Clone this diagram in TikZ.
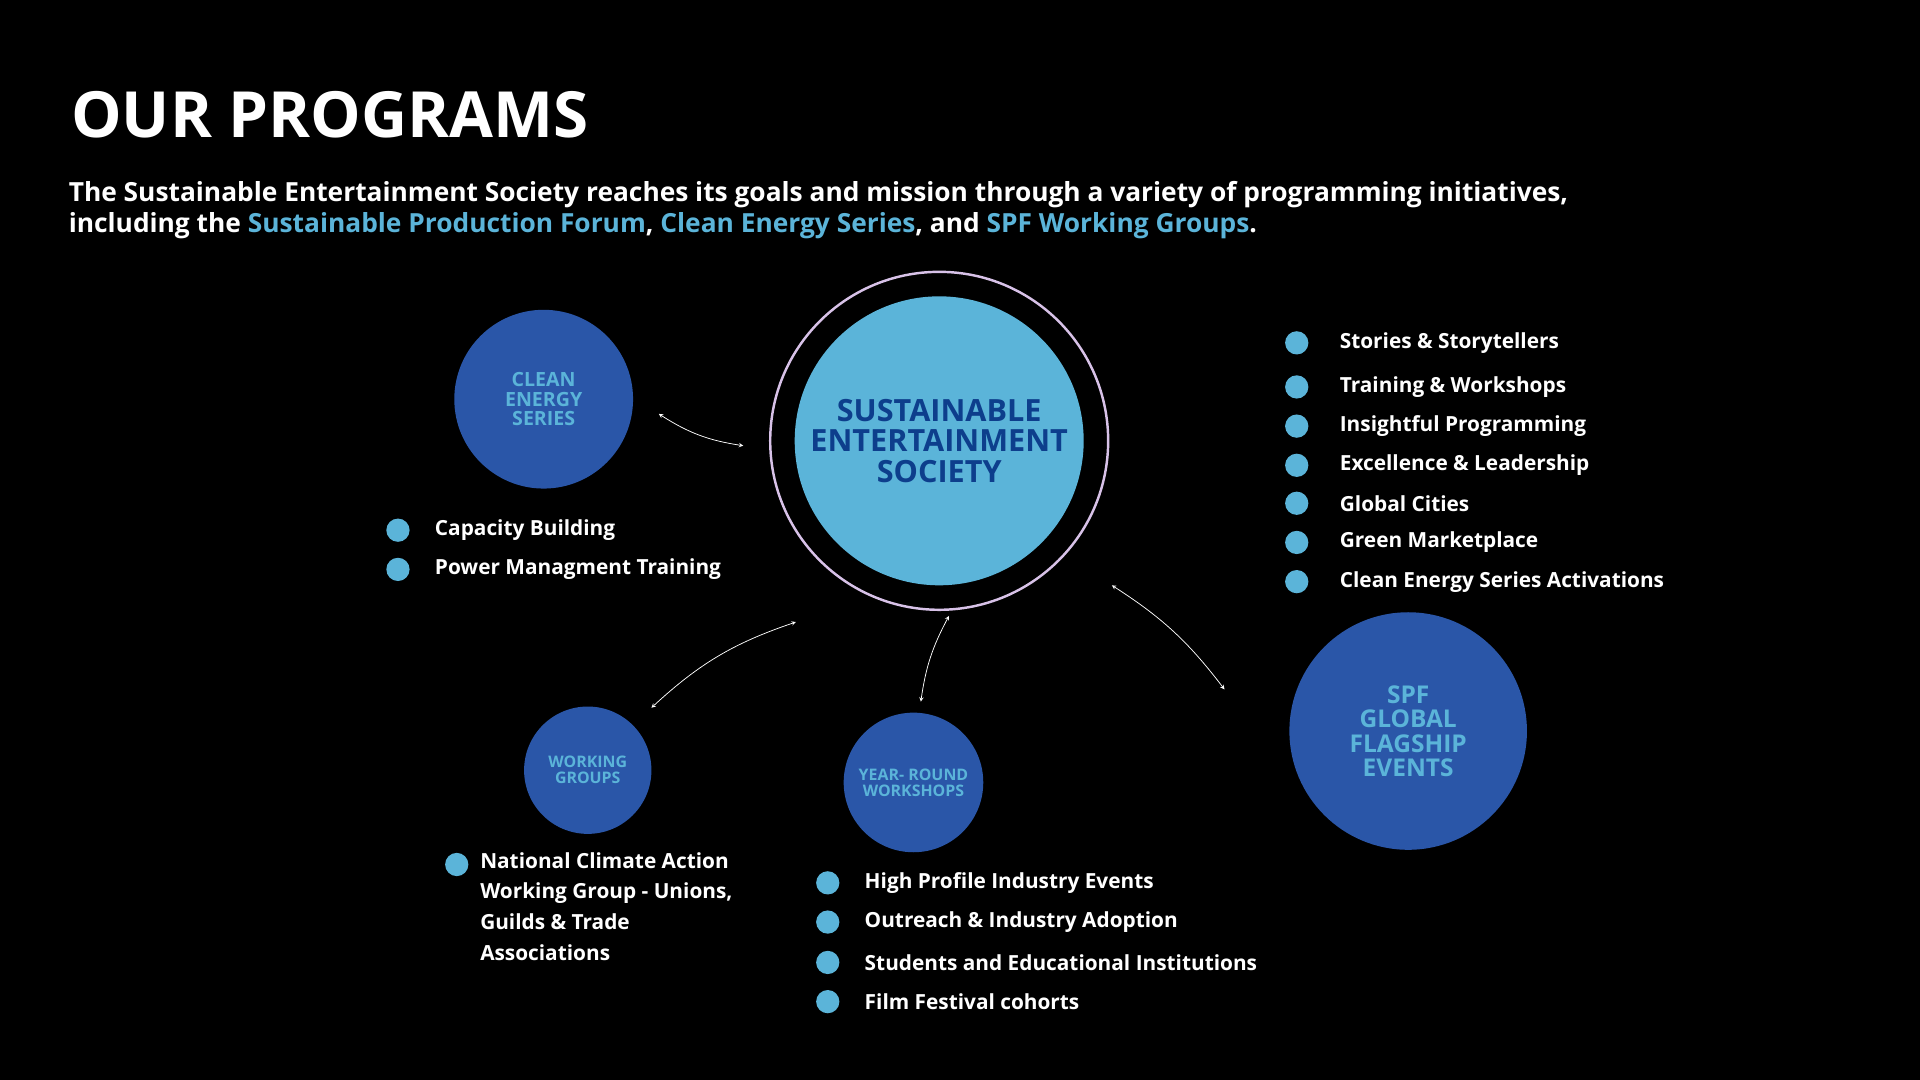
\documentclass[tikz,border=0pt]{standalone}
\usepackage{fontspec}
\setmainfont{Open Sans}
\usetikzlibrary{positioning}
\definecolor{skyblue}{HTML}{5BB4D9}
\definecolor{deepblue}{HTML}{2A56A8}
\definecolor{navytext}{HTML}{0D3E8C}
\definecolor{ringpurple}{HTML}{D8C2E8}
\newcommand{\fs}[1]{\fontsize{#1}{#1}\selectfont}
\tikzset{
  prog/.style={circle,fill=deepblue,text=skyblue,font=\bfseries,align=center,inner sep=0pt},
  dot/.style={circle,fill=skyblue,minimum size=19pt,inner sep=0pt},
  item/.style={anchor=west,text=white,font=\bfseries\fs{17},inner sep=0pt},
  link/.style={<->,>=stealth,white,line width=0.6pt}
}
\begin{document}
\begin{tikzpicture}[x=1pt,y=-1pt]
    \fill[black] (0,0) rectangle (1568,882);
    \useasboundingbox (0,0) rectangle (1568,882);
    \node[anchor=west,text=white,font=\bfseries\fs{52},inner sep=0pt] (title) at (58,94) {OUR PROGRAMS};
    \node[anchor=north west,text=white,font=\bfseries\fs{21.5},align=left,inner sep=0pt] (intro) at (56,148)
      {The Sustainable Entertainment Society reaches its goals and mission through a variety of programming initiatives,\\[4pt]
       including the \textcolor{skyblue}{Sustainable Production Forum}, \textcolor{skyblue}{Clean Energy Series}, and \textcolor{skyblue}{SPF Working Groups}.};

    % centre
    \node[circle,draw=ringpurple,line width=2pt,minimum size=276pt] (ring) at (767,360) {};
    \node[circle,fill=skyblue,text=navytext,font=\bfseries\fs{25},align=center,minimum size=236pt,inner sep=0pt] (ses) at (767,360)
      {SUSTAINABLE\\ENTERTAINMENT\\SOCIETY};

    % programs
    \node[prog,minimum size=146pt,font=\bfseries\fs{16}] (clean) at (444,326) {CLEAN\\ENERGY\\SERIES};
    \node[prog,minimum size=104pt,font=\bfseries\fs{13}] (working) at (480,629) {WORKING\\GROUPS};
    \node[prog,minimum size=114pt,font=\bfseries\fs{13}] (yearround) at (746,639) {YEAR- ROUND\\WORKSHOPS};
    \node[prog,minimum size=194pt,font=\bfseries\fs{20}] (spf) at (1150,597) {SPF\\GLOBAL\\FLAGSHIP\\EVENTS};

    % connectors
    \coordinate (c1) at (538,338); \coordinate (c2) at (607,364);
    \coordinate (w1) at (532,578); \coordinate (w2) at (650,508);
    \coordinate (y1) at (752,573); \coordinate (y2) at (775,503);
    \coordinate (s1) at (1000,563); \coordinate (s2) at (908,478);
    \draw[link] (c1) to[bend right=12] (c2);
    \draw[link] (w1) to[bend left=12] (w2);
    \draw[link] (y1) to[bend left=10] (y2);
    \draw[link] (s1) to[bend right=10] (s2);

    % clean energy list
    \foreach \t/\y [count=\i] in {Capacity Building/433, Power Managment Training/465}{
      \node[dot] (cd\i) at (325,\y) {};
      \node[item] (ct\i) at (355,\y) {\t};
    }
    % working groups list
    \node[dot] (wd1) at (373,706) {};
    \node[item,anchor=north west,align=left,font=\bfseries\fontsize{17}{25}\selectfont] (wt1) at (392,696)
      {National Climate Action\\Working Group - Unions,\\Guilds \& Trade\\Associations};
    % workshops list
    \foreach \t/\y [count=\i] in {High Profile Industry Events/721, Outreach \& Industry Adoption/753,
        Students and Educational Institutions/786, Film Festival cohorts/818}{
      \node[dot] (yd\i) at (676,\y) {};
      \node[item] (yt\i) at (706,\y) {\t};
    }
    % flagship list
    \foreach \t/\y [count=\i] in {Stories \& Storytellers/280, Training \& Workshops/316, Insightful Programming/348,
        Excellence \& Leadership/380, Global Cities/411, Green Marketplace/443, Clean Energy Series Activations/475}{
      \node[dot] (sd\i) at (1059,\y) {};
      \node[item] (st\i) at (1094,\y) {\t};
    }
\end{tikzpicture}
\end{document}
